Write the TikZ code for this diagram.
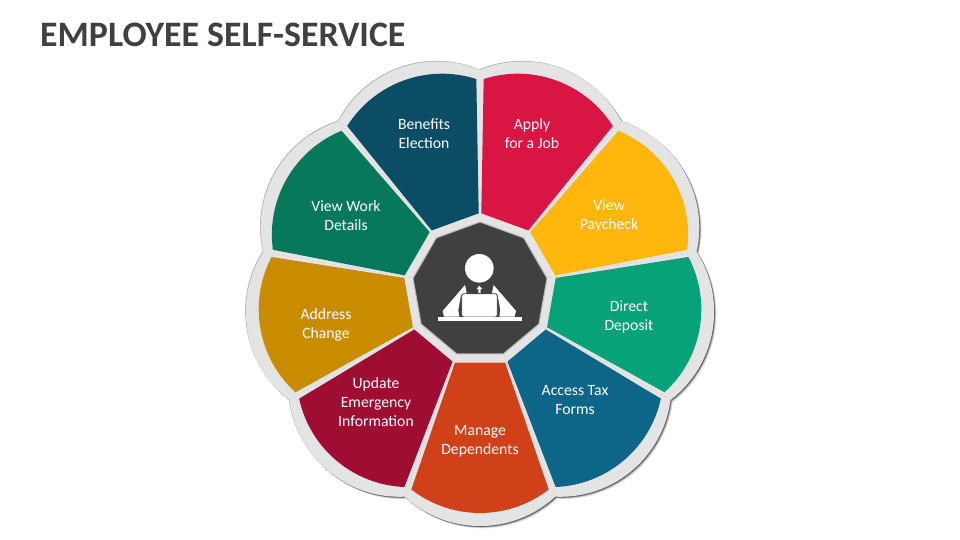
\documentclass[tikz,border=0pt]{standalone}
\usepackage{fontspec}
\setmainfont{Carlito}
\usetikzlibrary{positioning,shapes.geometric}
\definecolor{col1}{RGB}{217,21,68}
\definecolor{col2}{RGB}{255,182,13}
\definecolor{col3}{RGB}{7,162,119}
\definecolor{col4}{RGB}{13,102,135}
\definecolor{col5}{RGB}{208,65,26}
\definecolor{col6}{RGB}{160,13,51}
\definecolor{col7}{RGB}{201,140,0}
\definecolor{col8}{RGB}{7,121,90}
\definecolor{col9}{RGB}{10,77,100}
\definecolor{colhub}{RGB}{64,64,64}
\definecolor{colring}{RGB}{228,228,228}
\tikzstyle{seglabel}=[text=white, align=center, font=\fontsize{15.7}{19}\selectfont, inner sep=0pt]
\tikzstyle{hubbox}=[regular polygon, regular polygon sides=9, minimum size=136pt, inner sep=0pt, outer sep=0pt, fill=colhub, draw=black!28, line width=1pt]
\tikzstyle{iconpart}=[fill=white]
% one lobe of the grey ring, and one coloured petal, both drawn pointing up
\newcommand{\lobe}[3]{\fill[#3, shift={(480,290)}, shift={#2}, rotate=#1] (-75.2,-206.7) .. controls (-32.7,-245.8) and (32.7,-245.8) .. (75.2,-206.7) -- (0,0) -- cycle;}
\newcommand{\petal}[2]{\fill[#2, shift={(480,290)}, rotate=#1] (-25,-72.5) -- (-68.7,-199.5) .. controls (-28.2,-230.8) and (28.2,-230.8) .. (68.7,-199.5) -- (25,-72.5) -- cycle;}
\begin{document}
\begin{tikzpicture}[x=1pt,y=-1pt]
	\useasboundingbox (0,0) rectangle (960,540);
	\fill[white] (0,0) rectangle (960,540);
	\node[anchor=west, inner sep=0pt, text=colhub, font=\fontsize{35.8}{40}\selectfont\bfseries] (title) at (40,34.8) {EMPLOYEE SELF-SERVICE};
	% soft shadow, then the ring
	\foreach \a in {-20,-60,...,-340} {\lobe{\a}{(2.4,2.4)}{black!10}}
	\foreach \a in {-20,-60,...,-340} {\lobe{\a}{(1.5,1.5)}{black!35}}
	\foreach \a in {-20,-60,...,-340} {\lobe{\a}{(0.8,0.8)}{black!62}}
	\foreach \a in {-20,-60,...,-340} {\lobe{\a}{(-0.7,-0.7)}{black!30}}
	\foreach \a in {-20,-60,...,-340} {\lobe{\a}{(0,0)}{colring}}
	\petal{-20}{col1}
	\petal{-60}{col2}
	\petal{-100}{col3}
	\petal{-140}{col4}
	\petal{-180}{col5}
	\petal{-220}{col6}
	\petal{-260}{col7}
	\petal{-300}{col8}
	\petal{-340}{col9}
	\node[hubbox] (hub) at (480,290) {};
	% person at a laptop
	\fill[iconpart] (479.3,268.3) circle (14.3);
	\fill[iconpart] (465,285) -- (442.7,311) -- (444,316.7) -- (459.3,316.7) -- (458.3,310) -- (461,295) -- (466.7,293.3) -- cycle;
	\fill[iconpart] (493.6,285) -- (516,311) -- (514.6,316.7) -- (499.3,316.7) -- (500.3,310) -- (497.6,295) -- (491.9,293.3) -- cycle;
	\fill[iconpart] (479.3,285.7) -- (476.7,289) -- (478.3,289) -- (478.3,293) -- (480.6,293) -- (480.6,289) -- (482.2,289) -- cycle;
	\draw[iconpart, draw=colhub, line width=0.8pt, rounded corners=1.5pt] (461.7,293.8) rectangle (497.3,317);
	\fill[iconpart] (437.7,317.3) rectangle (522,321);
	% labels
	\node[seglabel] (apply) at (532,133.7) {Apply\\for a Job};
	\node[seglabel] (paycheck) at (609,215.5) {View\\Paycheck};
	\node[seglabel] (deposit) at (629,316.5) {Direct\\Deposit};
	\node[seglabel] (tax) at (575,400) {Access Tax\\Forms};
	\node[seglabel] (dependents) at (480,441) {Manage\\Dependents};
	\node[seglabel] (emergency) at (376,402.5) {Update\\Emergency\\Information};
	\node[seglabel] (address) at (326,324.5) {Address\\Change};
	\node[seglabel] (work) at (346,216) {View Work\\Details};
	\node[seglabel] (benefits) at (424,134) {Benefits\\Election};
\end{tikzpicture}
\end{document}
